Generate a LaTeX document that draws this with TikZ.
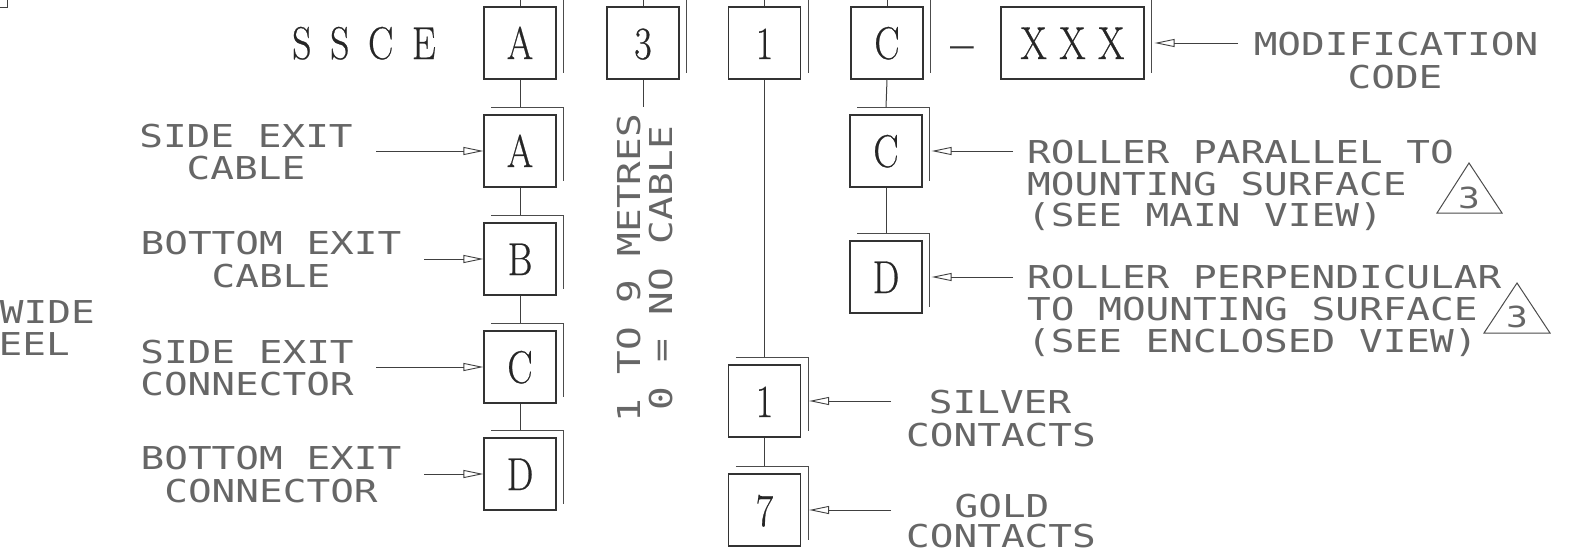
\documentclass[tikz,border=0pt]{standalone}
\usepackage{fontspec}
\usepackage{graphicx}
\usetikzlibrary{arrows.meta}
\newfontfamily\labfont[FakeStretch=1.25]{DejaVu Sans Mono}
\newfontfamily\bxfam[FakeBold=0.6]{Latin Modern Roman}
\newcommand{\lbl}{\labfont\fontsize{31.5}{32}\selectfont}
\newcommand{\lbls}{\labfont\fontsize{29}{30}\selectfont}
\newcommand{\bxf}{\bxfam\fontsize{46}{48}\selectfont}
\newcommand{\cx}[1]{\scalebox{0.82}[1]{#1}}
\newcommand{\shad}[1]{\draw[shd] ([shift={(8,-7)}]#1.north west) -- ([shift={(7,-7)}]#1.north east) -- ([shift={(7,-7)}]#1.south east);}
\begin{document}
\begin{tikzpicture}[x=1pt,y=-1pt,
  bx/.style={draw=black!80, line width=1.2pt, minimum width=72pt, minimum height=72pt, inner sep=0pt, font=\bxf, text height=32pt, text depth=0pt, text=black!85},
  shd/.style={draw=black!70, line width=1pt},
  conn/.style={draw=black!75, line width=1pt},
  arr/.style={draw=black!75, line width=0.9pt, -{Triangle[open, length=20pt, width=8pt]}},
  lab/.style={font=\lbl, text=black!60, inner sep=0pt, anchor=base},
  labl/.style={lab, anchor=base west},
  labr/.style={lab, anchor=base east},
  tri/.style={draw=black!70, line width=1pt, line join=miter}]
\useasboundingbox (0,0) rectangle (1588,552);
\fill[white] (0,0) rectangle (1588,552);

% boxes
\node[bx] (A) at (520,43) {\cx{A}};
\node[bx] (n3) at (643,43) {\cx{3}};
\node[bx] (n1) at (764.5,43) {\cx{1}};
\node[bx] (C) at (887,43) {\cx{C}};
\node[bx, minimum width=143pt] (X) at (1072.5,43) {\cx{X\hspace{15.5pt}X\hspace{15.5pt}X}};
\node[bx] (A2) at (520,151) {\cx{A}};
\node[bx] (B) at (520,259) {\cx{B}};
\node[bx] (Cl) at (520,367) {\cx{C}};
\node[bx] (D) at (520,474) {\cx{D}};
\node[bx] (C2) at (886,151) {\cx{C}};
\node[bx] (D2) at (886,277) {\cx{D}};
\node[bx] (n1b) at (764.5,401) {\cx{1}};
\node[bx] (n7) at (764.5,510) {\cx{7}};

\foreach \b in {A,n3,n1,C,X,A2,B,Cl,D,C2,D2,n1b,n7} {\shad{\b}}

% top text
\node[font=\bxf, text=black!85, inner sep=0pt, anchor=base west] (ssce) at (292,59) {\cx{S\hspace{22.8pt}S\hspace{22.8pt}C\hspace{22.8pt}E}};
\node[font=\lbl, text=black!80, inner sep=0pt, anchor=base] (dash) at (962,56) {\textendash};

% stubs on top row
\draw[conn] (A.north) -- ++(0,-9);
\draw[conn] (n3.north) -- ++(0,-9);
\draw[conn] (n1.north) -- ++(0,-9);
\draw[conn] (C.north) -- ++(0,-9);

% connectors
\draw[conn] (A.south) -- ([yshift=7pt]A2.north);
\draw[conn] (A2.south) -- ([yshift=7pt]B.north);
\draw[conn] (B.south) -- ([yshift=7pt]Cl.north);
\draw[conn] (Cl.south) -- ([yshift=7pt]D.north);
\coordinate (c3) at (643,107);
\draw[conn] (n3.south) -- (c3);
\draw[conn] (n1.south) -- ([yshift=7pt]n1b.north);
\draw[conn] (n1b.south) -- ([yshift=7pt]n7.north);
\draw[conn] (C.south) -- ([yshift=7pt]C2.north);
\draw[conn] (C2.south) -- ([yshift=7pt]D2.north);

% corner mark
\draw[conn] (0,7) -- (7,7) -- (7,0);

% left labels
\node[lab] (sa1) at (246,147.5) {SIDE EXIT};
\node[lab] (sa2) at (246,179.5) {CABLE};
\node[lab] (bb1) at (271,254.5) {BOTTOM EXIT};
\node[lab] (bb2) at (271,287.5) {CABLE};
\node[lab] (sc1) at (247,363.5) {SIDE EXIT};
\node[lab] (sc2) at (247,395.5) {CONNECTOR};
\node[lab] (bd1) at (271,469.5) {BOTTOM EXIT};
\node[lab] (bd2) at (271,502.5) {CONNECTOR};
\node[labr] (wide) at (95,323.5) {WIDE};
\node[labr] (eel) at (70,355.5) {EEL};

% rotated text
\node[lab, rotate=90] (met1) at (640.5,268) {1 TO 9 METRES};
\node[lab, rotate=90] (met2) at (672.5,268) {0 = NO CABLE};

% right labels
\node[lab] (mod1) at (1396,55.5) {MODIFICATION};
\node[lab] (mod2) at (1395,88.5) {CODE};
\node[labl] (rp1) at (1027,163.5) {ROLLER PARALLEL TO};
\node[labl] (rp2) at (1027,195.5) {MOUNTING SURFACE};
\node[labl] (rp3) at (1027,226.5) {(SEE MAIN VIEW)};
\node[labl] (rq1) at (1027,288.5) {ROLLER PERPENDICULAR};
\node[labl] (rq2) at (1027,320.5) {TO MOUNTING SURFACE};
\node[labl] (rq3) at (1027,352.5) {(SEE ENCLOSED VIEW)};
\node[lab] (si1) at (1000,413.5) {SILVER};
\node[lab] (si2) at (1001,446.5) {CONTACTS};
\node[lab] (go1) at (1002,517) {GOLD};
\node[lab] (go2) at (1001,547) {CONTACTS};

% triangles
\draw[tri] (1437,213) -- (1469,163) -- (1502,213) -- cycle;
\node[font=\lbls, text=black!60, inner sep=0pt] (t1) at (1469,198) {3};
\draw[tri] (1484,333) -- (1517,283) -- (1550,333) -- cycle;
\node[font=\lbls, text=black!60, inner sep=0pt] (t2) at (1517,317) {3};

% arrows
\coordinate (sA) at (376,151);
\coordinate (sB) at (424,259);
\coordinate (sC) at (376,367);
\coordinate (sD) at (424,474);
\draw[arr] (sA) -- (A2.west);
\draw[arr] (sB) -- (B.west);
\draw[arr] (sC) -- (Cl.west);
\draw[arr] (sD) -- (D.west);
\coordinate (sC2) at (1013,151);
\coordinate (sD2) at (1013,277);
\coordinate (sX) at (1238,43);
\coordinate (sS) at (891,401);
\coordinate (sG) at (891,510);
\draw[arr] (sC2) -- ([xshift=9pt]C2.east);
\draw[arr] (sD2) -- ([xshift=9pt]D2.east);
\draw[arr] (sX) -- ([xshift=10pt]X.east);
\draw[arr] (sS) -- ([xshift=8pt]n1b.east);
\draw[arr] (sG) -- ([xshift=8pt]n7.east);
\end{tikzpicture}
\end{document}
